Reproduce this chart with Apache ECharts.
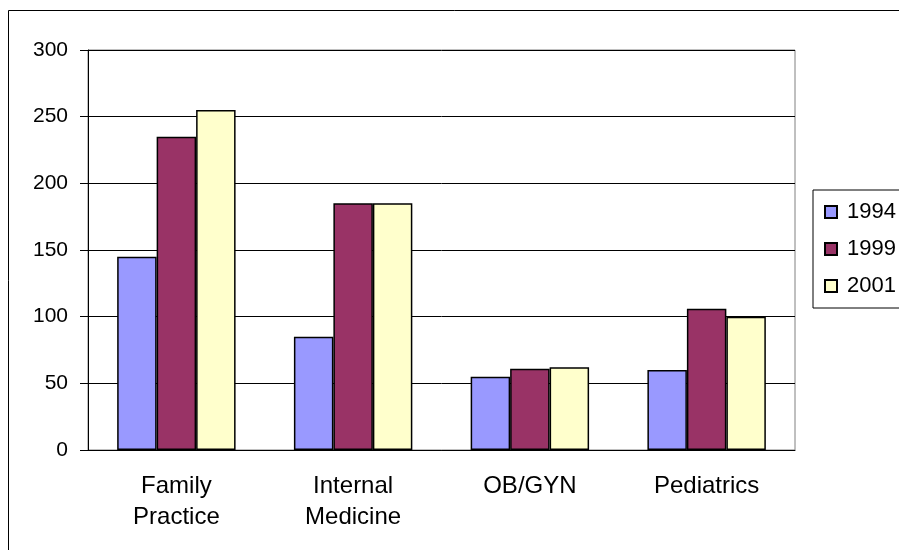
<!DOCTYPE html>
<html>
<head>
<meta charset="utf-8">
<script src="https://cdn.jsdelivr.net/npm/echarts@6/dist/echarts.min.js"></script>
<style>
  html, body { margin: 0; padding: 0; background: #fff; }
  #chart { width: 899px; height: 550px; }
</style>
</head>
<body>
<div id="chart"></div>
<script>
// 数据
const categories = ['Family\nPractice', 'Internal\nMedicine', 'OB/GYN', 'Pediatrics'];
const years = ['1994', '1999', '2001'];
const values1994 = [145, 85, 55, 60];
const values1999 = [235, 185, 61, 106];
const values2001 = [255, 185, 62, 100];
const yTicks = [0, 50, 100, 150, 200, 250, 300];

const colors = ['#9999FF', '#993366', '#FFFFCC'];
const seriesValues = [values1994, values1999, values2001];
const font = 'Liberation Sans, Arial, sans-serif';

const myChart = echarts.init(document.getElementById('chart'));

const series = years.map((y, i) => ({
  name: y,
  type: 'bar',
  data: seriesValues[i],
  barGap: '0%',
  barCategoryGap: '33%',
  itemStyle: { color: colors[i], borderColor: '#000', borderWidth: 1.5 },
  animation: false
}));

myChart.setOption({
  animation: false,
  textStyle: { fontFamily: font },
  // 外框
  graphic: [{
    type: 'rect',
    shape: { x: 8.5, y: 10.5, width: 900, height: 560 },
    style: { fill: null, stroke: '#000', lineWidth: 1 },
    silent: true
  }],
  grid: {
    left: 88, top: 50, right: 104, bottom: 100,
    show: true, borderColor: '#808080', borderWidth: 1
  },
  legend: {
    orient: 'vertical',
    left: 813, top: 190,
    icon: 'rect',
    itemWidth: 12, itemHeight: 12,
    itemGap: 15,
    padding: [11, 40, 11, 11],
    borderColor: '#000', borderWidth: 1,
    textStyle: { fontSize: 22, color: '#000', fontFamily: font, padding: [0, 0, 0, 5] },
    data: years
  },
  xAxis: {
    type: 'category',
    data: categories,
    axisLine: { lineStyle: { color: '#000', width: 1 } },
    axisTick: { length: 7, lineStyle: { color: '#000' } },
    axisLabel: { fontSize: 24, color: '#000', margin: 21, lineHeight: 31, fontFamily: font }
  },
  yAxis: {
    type: 'value',
    min: 0, max: 300, interval: 50,
    axisLine: { show: true, lineStyle: { color: '#000', width: 1 } },
    axisTick: { show: true, length: 8, lineStyle: { color: '#000' } },
    axisLabel: {
      fontSize: 21, color: '#000', margin: 20, fontFamily: font,
      formatter: v => yTicks.includes(v) ? String(v) : ''
    },
    splitLine: { lineStyle: { color: '#000', width: 1 } }
  },
  series
});
</script>
</body>
</html>
